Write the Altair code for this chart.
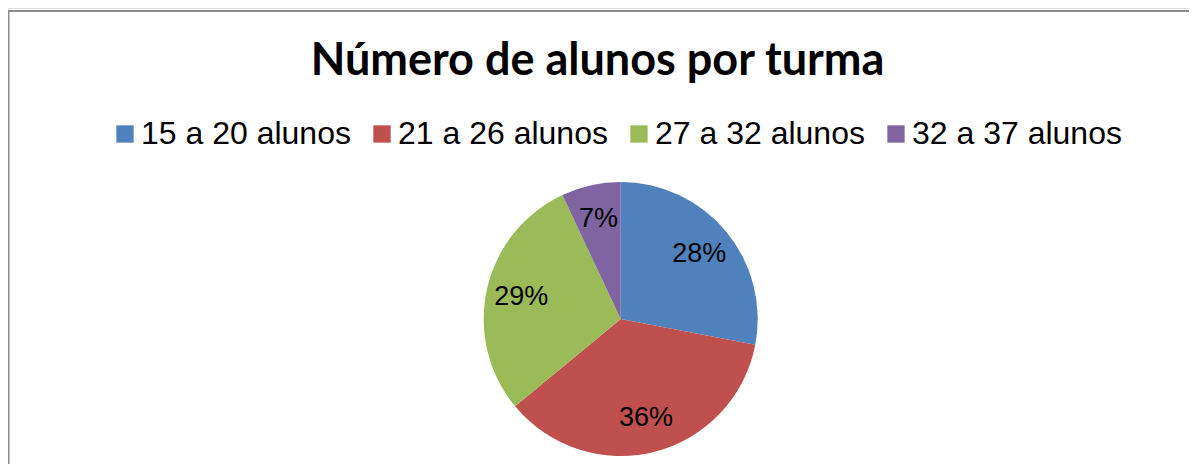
import altair as alt
import pandas as pd

title_text = "Número de alunos por turma"
categories = ["15 a 20 alunos", "21 a 26 alunos", "27 a 32 alunos", "32 a 37 alunos"]
percentages = [28, 36, 29, 7]
labels = ["28%", "36%", "29%", "7%"]
colors = ["#4F81BD", "#C0504D", "#9BBB59", "#8064A2"]

df = pd.DataFrame({
    "categoria": categories,
    "valor": percentages,
    "rotulo": labels,
    "ordem": list(range(len(categories))),
})

W, H = 1181, 456
CX, CY = 612.7, 311

base = alt.Chart(df).encode(
    theta=alt.Theta("valor:Q", stack=True),
    order=alt.Order("ordem:Q"),
)

pie = base.mark_arc(outerRadius=137).encode(
    x=alt.value(CX),
    y=alt.value(CY),
    color=alt.Color(
        "categoria:N",
        scale=alt.Scale(domain=categories, range=colors),
        legend=alt.Legend(
            title=None,
            orient="none",
            legendX=101,
            legendY=110,
            direction="horizontal",
            columns=4,
            symbolType="square",
            symbolSize=300,
            symbolStrokeWidth=0,
            symbolOpacity=1,
            labelFont="Liberation Sans",
            labelFontSize=32,
            labelColor="black",
            labelOffset=0,
            labelLimit=1000,
            columnPadding=15,
            padding=0,
        ),
    ),
)

text = base.mark_text(radius=102, font="Liberation Sans", fontSize=27, color="black").encode(
    x=alt.value(CX),
    y=alt.value(CY),
    text="rotulo:N",
)

edge = pd.DataFrame({"borda": ["topo"]})
top_rule = alt.Chart(edge).mark_rule(color="#8c8c8c", strokeWidth=2).encode(
    x=alt.value(0), x2=alt.value(W), y=alt.value(3)
)
left_rule = alt.Chart(edge).mark_rule(color="#8c8c8c", strokeWidth=2).encode(
    x=alt.value(0.5), y=alt.value(2), y2=alt.value(H)
)

title = alt.Chart(pd.DataFrame({"titulo": [title_text]})).mark_text(
    font="Lato", fontSize=45, fontWeight="bold", color="black",
    align="center", baseline="alphabetic",
).encode(x=alt.value(589.5), y=alt.value(67), text="titulo:N")

chart = alt.layer(top_rule, left_rule, title, pie, text).properties(
    width=W,
    height=H,
    padding=0,
    autosize=alt.AutoSizeParams(type="none"),
).configure_view(stroke=None).configure(background="white")

chart.save("out.html", embed_options={"renderer": "svg", "actions": False})
